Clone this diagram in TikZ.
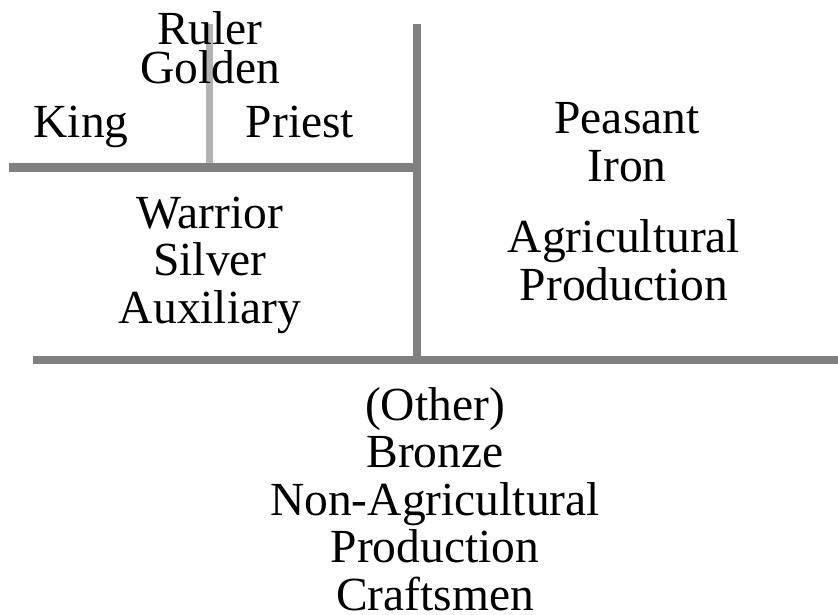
\documentclass[tikz,border=0pt]{standalone}
\usepackage{fontspec}
\setmainfont{Liberation Serif}
\definecolor{RuleGray}{HTML}{808080}
\definecolor{SplitGray}{HTML}{B3B3B3}

\begin{document}
\begin{tikzpicture}[x=1pt,y=-1pt,
  caste/.style={inner sep=0pt,anchor=base,align=center,font=\fontsize{47.5}{47.5}\selectfont}]
  \useasboundingbox (0,0) rectangle (838,615);
  \draw[SplitGray,line width=7pt] (209.5,24)--(209.5,164);
  \draw[RuleGray,line width=8pt] (417,24)--(417,360); \draw[RuleGray,line width=8pt] (9,167.5)--(421,167.5);
  \draw[RuleGray,line width=8pt] (33,360)--(838,360);
  % base anchor sits on the last line
  \node[caste,font=\fontsize{47.5}{39}\selectfont] (ruler) at (210,84) {Ruler\\Golden};
  \node[caste] (king) at (81,138) {King}; \node[caste] (priest) at (300,138) {Priest};
  \node[caste] (warrior) at (210,323) {Warrior\\Silver\\Auxiliary};
  \node[caste] (peasant) at (627,181) {Peasant\\Iron};
  \node[caste] (agri) at (624,300) {Agricultural\\Production};
  \node[caste] (other) at (435,610) {(Other)\\Bronze\\Non-Agricultural\\Production\\Craftsmen};
\end{tikzpicture}
\end{document}
